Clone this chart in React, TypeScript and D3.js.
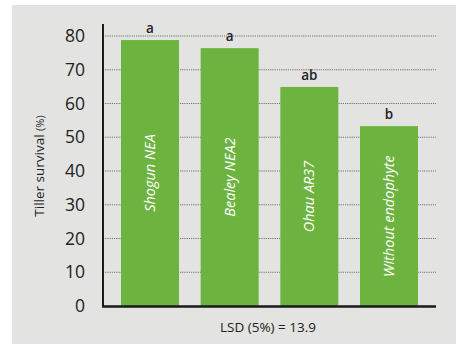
import React from "react";
import * as d3 from "d3";

const categories = ["Shogun NEA", "Bealey NEA2", "Ohau AR37", "Without endophyte"];
const values = [78.8, 76.4, 64.9, 53.3];
const letters = ["a", "a", "ab", "b"];
const yTicks = [0, 10, 20, 30, 40, 50, 60, 70, 80];
const lsdText = "LSD (5%) = 13.9";

const W = 456;
const H = 344;
const FONT = "'Open Sans', 'Noto Sans', sans-serif";

export default function App() {
  const x = d3
    .scaleBand<string>()
    .domain(categories)
    .range([103, 436])
    .paddingInner(0.272)
    .paddingOuter(0.226);
  const y = d3.scaleLinear().domain([0, 80]).range([306, 36]);
  const green = "#6db33f";

  return (
    <svg
      width={W}
      height={H}
      style={{ position: "absolute", left: 0, top: 0, display: "block" }}
    >
      <rect x={12} y={5} width={W - 12} height={H - 5} fill="#e3e3e2" />
      {/* gridlines */}
      {yTicks
        .filter((t) => t > 0)
        .map((t) => (
          <line
            key={"g" + t}
            x1={103}
            x2={436}
            y1={y(t)}
            y2={y(t)}
            stroke="#555"
            strokeWidth={0.8}
            strokeDasharray="1.2,1"
          />
        ))}
      {/* bars */}
      {categories.map((c, i) => (
        <rect
          key={c}
          x={x(c)}
          y={y(values[i])}
          width={x.bandwidth()}
          height={y(0) - y(values[i])}
          fill={green}
        />
      ))}
      {/* bar labels */}
      {categories.map((c, i) => {
        const cx = (x(c) as number) + x.bandwidth() / 2;
        const cy = (y(values[i]) + y(0)) / 2;
        return (
          <text
            key={"l" + c}
            transform={`translate(${cx},${cy}) rotate(-90)`}
            textAnchor="middle"
            dy="0.35em"
            fill="#fff"
            fontStyle="italic"
            fontSize={14.5}
            fontFamily={FONT}
          >
            {c}
          </text>
        );
      })}
      {/* significance letters */}
      {categories.map((c, i) => (
        <text
          key={"s" + c}
          x={(x(c) as number) + x.bandwidth() / 2}
          y={y(values[i]) - 7}
          textAnchor="middle"
          fontSize={13.5}
          fontWeight={600}
          fill="#222"
          fontFamily={FONT}
        >
          {letters[i]}
        </text>
      ))}
      {/* axes */}
      <line x1={103} x2={103} y1={24} y2={307} stroke="#1a1a1a" strokeWidth={2} />
      <line x1={102} x2={436} y1={306.5} y2={306.5} stroke="#1a1a1a" strokeWidth={2.5} />
      {/* tick labels */}
      {yTicks.map((t) => (
        <text
          key={"t" + t}
          x={85}
          y={y(t)}
          dy="0.35em"
          textAnchor="end"
          fontSize={17.5}
          fill="#222"
          fontFamily={FONT}
        >
          {t}
        </text>
      ))}
      {/* y axis title */}
      <text
        transform={`translate(44,166) rotate(-90)`}
        textAnchor="middle"
        fontSize={13.5}
        fill="#222"
        fontFamily={FONT}
      >
        Tiller survival <tspan fontSize={11}>(%)</tspan>
      </text>
      {/* LSD */}
      <text
        x={268}
        y={332}
        textAnchor="middle"
        fontSize={13.5}
        fill="#222"
        fontFamily={FONT}
      >
        {lsdText}
      </text>
    </svg>
  );
}
